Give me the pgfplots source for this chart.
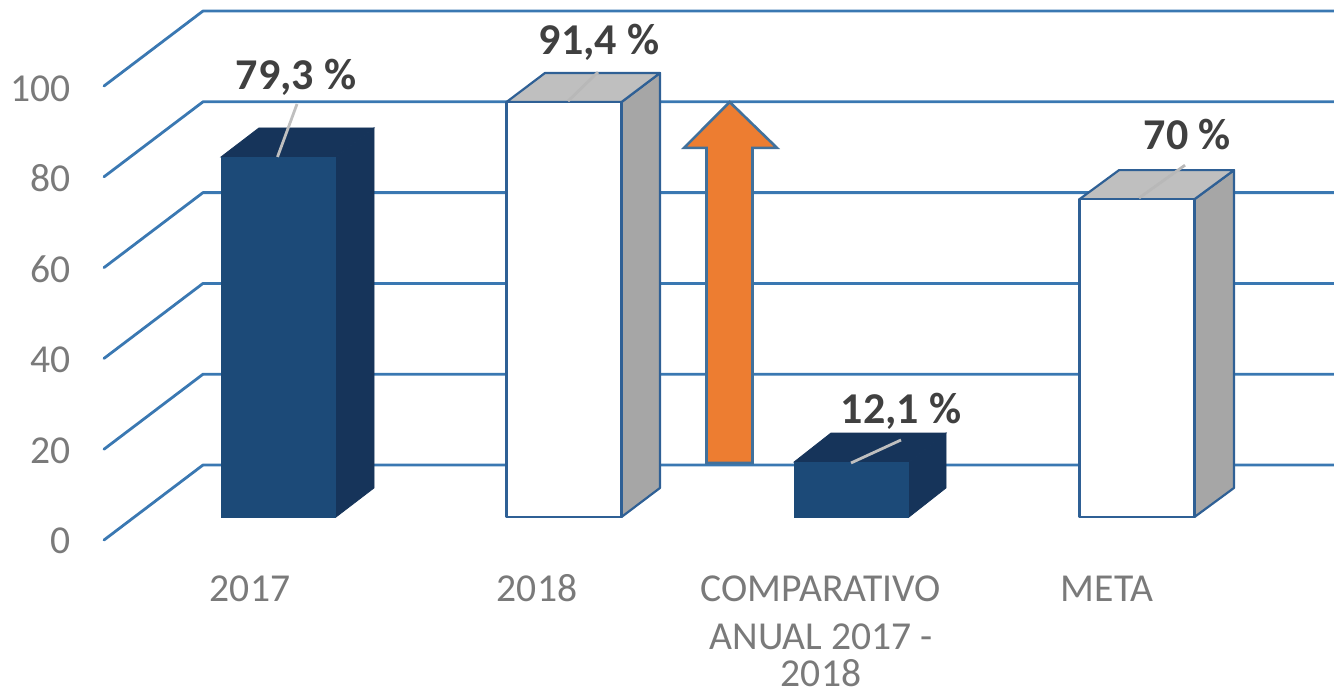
\documentclass[border=0pt]{standalone}
\usepackage{fontspec}
\setmainfont{Carlito}
\usepackage{pgfplots}
\pgfplotsset{compat=1.18}
\definecolor{grid}{HTML}{3A78B2}
\definecolor{navy}{HTML}{1C4A78}
\definecolor{navyd}{HTML}{16345A}
\definecolor{edge}{HTML}{2F6095}
\definecolor{gtop}{HTML}{BFBFBF}
\definecolor{gside}{HTML}{A6A6A6}
\definecolor{lab}{HTML}{7A7A7A}
\definecolor{val}{HTML}{404040}
\definecolor{arrow}{HTML}{ED7D31}
\definecolor{arrowe}{HTML}{41719C}
\tikzset{
  wall/.style={draw=grid, line width=1.4pt, line join=round, line cap=round},
  navyF/.style={fill=navy, draw=navy, line width=0.4pt},
  navyS/.style={fill=navyd, draw=navyd, line width=0.4pt},
  whiteF/.style={fill=white, draw=edge, line width=1.1pt, line join=round},
  grayT/.style={fill=gtop, draw=edge, line width=1.1pt, line join=round},
  grayS/.style={fill=gside, draw=edge, line width=1.1pt, line join=round},
  leader/.style={draw=gtop, line width=1.4pt},
  axlab/.style={font=\fontsize{19.8}{19.8}\selectfont, text=lab, inner sep=0pt, anchor=base},
  vallab/.style={font=\fontsize{22}{22}\selectfont\bfseries, text=val, inner sep=0pt, anchor=base},
}
\begin{document}
\begin{tikzpicture}
\begin{axis}[
  scale only axis, width=667pt, height=348pt,
  xmin=0, xmax=1334, ymin=-39.427, ymax=113.877,
  axis lines=none, clip=true, no markers,
]
\path (axis cs:0,-39.427) rectangle (axis cs:1334,113.877);
% gridlines: side wall and back wall, value v sits at (104, v-5.07) and (203, v+11.45)
\addplot[wall] coordinates {(104,-5.07) (203,11.45) (1334,11.45)};
\addplot[wall] coordinates {(104,14.93) (203,31.45) (1334,31.45)};
\addplot[wall] coordinates {(104,34.93) (203,51.45) (1334,51.45)};
\addplot[wall] coordinates {(104,54.93) (203,71.45) (1334,71.45)};
\addplot[wall] coordinates {(104,74.93) (203,91.45) (1334,91.45)};
\addplot[wall] coordinates {(104,94.93) (203,111.45) (1334,111.45)};
% 2017 = 79.3
\addplot[navyS] coordinates {(336,0) (374,6.4) (374,85.7) (336,79.3)} --cycle;
\addplot[navyS] coordinates {(221,79.3) (336,79.3) (374,85.7) (259,85.7)} --cycle;
\addplot[navyF] coordinates {(221,0) (335.5,0) (335.5,79.3) (221,79.3)} --cycle;
\addplot[leader] coordinates {(277.5,79.3) (297,90.97)};
% 2018 = 91.4
\addplot[grayS] coordinates {(621.5,0) (660,6.4) (660,97.8) (621.5,91.4)} --cycle;
\addplot[grayT] coordinates {(506.5,91.4) (621.5,91.4) (660,97.8) (545,97.8)} --cycle;
\addplot[whiteF] coordinates {(506.5,0) (621.5,0) (621.5,91.4) (506.5,91.4)} --cycle;
\addplot[leader, draw=gside!80!white] coordinates {(568,91.6) (598,98.0)};
% arrow
\addplot[fill=arrow, draw=arrowe, line width=1.3pt, line join=miter] coordinates {(706.5,11.9) (752.5,11.9) (752.5,81.3) (777,81.3) (729.7,91.4) (684,81.3) (706.5,81.3)} --cycle;
% comparativo = 12.1
\addplot[navyS] coordinates {(909,0) (946,6.4) (946,18.5) (909,12.1)} --cycle;
\addplot[navyS] coordinates {(794,12.1) (909,12.1) (946,18.5) (831,18.5)} --cycle;
\addplot[navyF] coordinates {(794,0) (908.5,0) (908.5,12.1) (794,12.1)} --cycle;
\addplot[leader] coordinates {(851,11.9) (901,16.96)};
% meta = 70
\addplot[grayS] coordinates {(1194.5,0) (1234,6.4) (1234,76.4) (1194.5,70)} --cycle;
\addplot[grayT] coordinates {(1079.5,70) (1194.5,70) (1234,76.4) (1119,76.4)} --cycle;
\addplot[whiteF] coordinates {(1079.5,0) (1194.5,0) (1194.5,70) (1079.5,70)} --cycle;
\addplot[leader, draw=gside!80!white] coordinates {(1139,70.26) (1185,77.5)};
% value-axis labels
\node[axlab, anchor=base east] at (axis cs:71,-8.1) {0};
\node[axlab, anchor=base east] at (axis cs:71,11.83) {20};
\node[axlab, anchor=base east] at (axis cs:71,31.77) {40};
\node[axlab, anchor=base east] at (axis cs:71,51.7) {60};
\node[axlab, anchor=base east] at (axis cs:71,71.64) {80};
\node[axlab, anchor=base east] at (axis cs:71,91.6) {100};
% categories
\node[axlab] at (axis cs:250,-18.72) {2017};
\node[axlab] at (axis cs:537,-18.72) {2018};
\node[axlab] at (axis cs:821,-18.72) {COMPARATIVO};
\node[axlab] at (axis cs:821,-29.1) {ANUAL 2017 -};
\node[axlab] at (axis cs:821,-37.4) {2018};
\node[axlab] at (axis cs:1107,-18.72) {META};
% values
\node[vallab] at (axis cs:296,94.1) {79,3 \%};
\node[vallab] at (axis cs:599,101.9) {91,4 \%};
\node[vallab] at (axis cs:901,20.7) {12,1 \%};
\node[vallab] at (axis cs:1187,81.0) {70 \%};
\end{axis}
\end{tikzpicture}
\end{document}
